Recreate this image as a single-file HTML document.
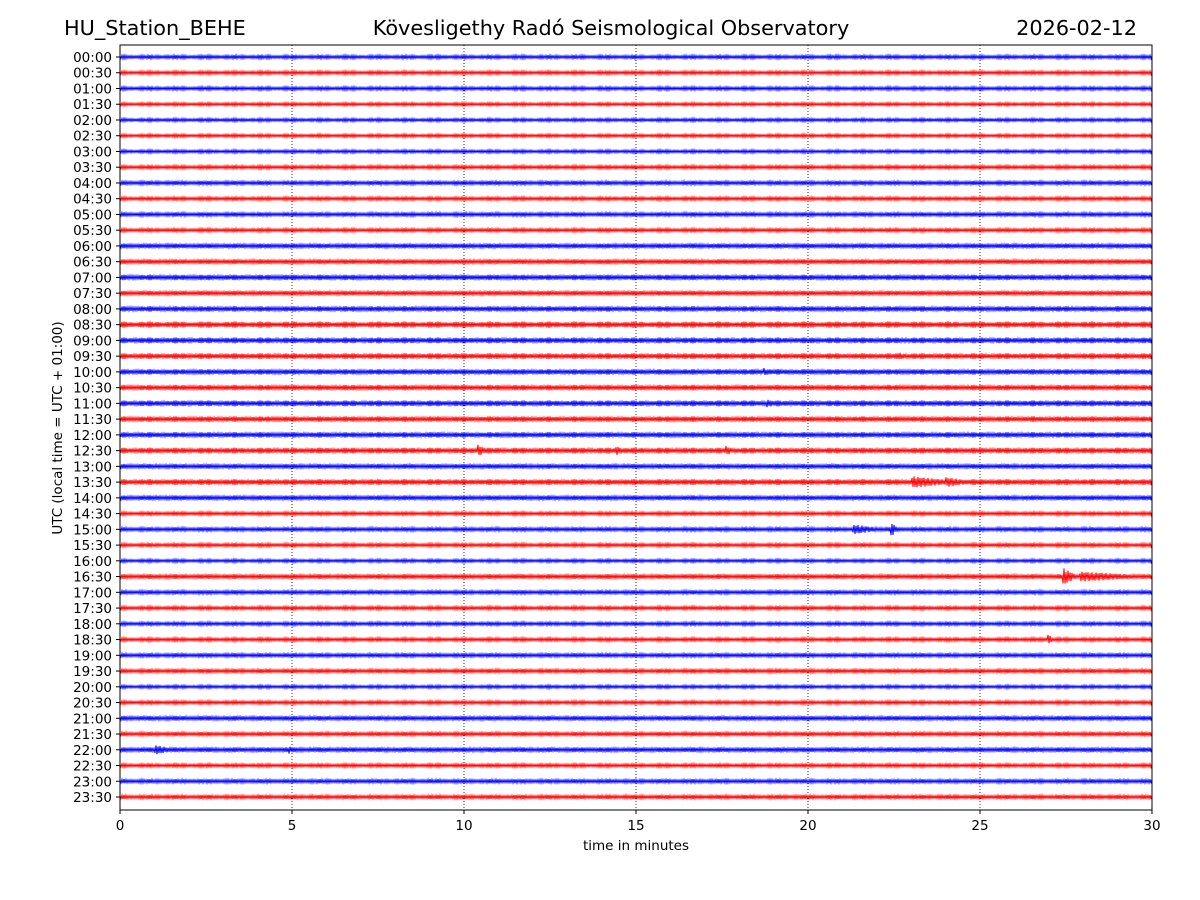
<!DOCTYPE html>
<html><head><meta charset="utf-8">
<style>
body{margin:0;background:#fff;}
svg{display:block;font-family:"DejaVu Sans","Liberation Sans",sans-serif;}
</style></head>
<body>
<svg id="chart" width="1200" height="900" viewBox="0 0 1200 900">
<rect x="0" y="0" width="1200" height="900" fill="#fff"/>
<text x="64" y="35" font-size="20.8">HU_Station_BEHE</text>
<text x="611" y="35" font-size="20.8" text-anchor="middle">Kövesligethy Radó Seismological Observatory</text>
<text x="1137" y="35" font-size="20.8" text-anchor="end">2026-02-12</text>
<g id="grid"></g>
<g id="traces"></g>
<rect x="120" y="45" width="1032" height="765" fill="none" stroke="#000" stroke-width="1"/>
<g id="xaxis"></g>
<g id="yaxis"></g>
<text x="636" y="850" font-size="13.5" text-anchor="middle">time in minutes</text>
<text x="0" y="0" font-size="13.5" text-anchor="middle" transform="translate(62,428) rotate(-90)">UTC (local time = UTC + 01:00)</text>
</svg>
<script>
const rowLabels = [];
for (let h = 0; h < 24; h++) { const hh = String(h).padStart(2,'0'); rowLabels.push(hh+':00'); rowLabels.push(hh+':30'); }
const xTicks = [0,5,10,15,20,25,30];
// base noise amplitude per row (px)
const noiseAmp = [2,2,2,1.8,1.8,1.8,1.8,2,2.2,2,2.2,2,2.5,2.5,2.8,2.5,2.8,3.2,3,3,2.8,2.8,3,2.8,2.8,3,2.5,3,2.5,2,2.2,2,1.8,2.5,2.2,2,2,2,2.2,2.2,1.8,2,2.5,2.2,2.5,2,2.2,2.2];
// events: [row, startMinute, endMinute, peakAmplitude px]
const eventRows = [25,25,25,27,27,30,30,33,33,37,44,44,20,19,22];
const eventStart = [10.4,14.4,17.6,23.0,24.0,21.3,22.4,27.4,27.9,26.95,1.0,4.9,18.7,22.6,18.8];
const eventEnd = [10.7,14.7,17.9,24.3,24.8,22.2,22.6,27.8,30,27.1,1.6,5.1,19.0,23.0,19.2];
const eventAmp = [6,5,5,6,5,5,8,9,5,7,5,4,4,4,4];

const X0=120, X1=1152, Y0=57, YSTEP=(797-57)/47;
const xs = m => X0 + (X1-X0)*m/30;
const ys = r => Y0 + r*YSTEP;
const NS='http://www.w3.org/2000/svg';
const grid=document.getElementById('grid'), tr=document.getElementById('traces');
const xa=document.getElementById('xaxis'), ya=document.getElementById('yaxis');

xTicks.forEach(t=>{
  if(t>0&&t<30){
    const l=document.createElementNS(NS,'line');
    l.setAttribute('x1',xs(t));l.setAttribute('x2',xs(t));l.setAttribute('y1',45);l.setAttribute('y2',810);
    l.setAttribute('stroke','#000');l.setAttribute('stroke-width','0.8');l.setAttribute('stroke-dasharray','1,2');
    
    
    grid.appendChild(l);
  }
  const tk=document.createElementNS(NS,'line');
  tk.setAttribute('x1',xs(t));tk.setAttribute('x2',xs(t));tk.setAttribute('y1',810);tk.setAttribute('y2',814);tk.setAttribute('stroke','#000');
  
  
  xa.appendChild(tk);
  const tx=document.createElementNS(NS,'text');
  tx.setAttribute('x',xs(t));tx.setAttribute('y',830);tx.setAttribute('font-size','13.5');tx.setAttribute('text-anchor','middle');
  tx.textContent=t;
  
  
  xa.appendChild(tx);
});

rowLabels.forEach((lab,r)=>{
  const y=ys(r);
  const tk=document.createElementNS(NS,'line');
  tk.setAttribute('x1',116);tk.setAttribute('x2',120);tk.setAttribute('y1',y);tk.setAttribute('y2',y);tk.setAttribute('stroke','#000');
  
  
  ya.appendChild(tk);
  const tx=document.createElementNS(NS,'text');
  tx.setAttribute('x',112);tx.setAttribute('y',y+5);tx.setAttribute('font-size','13.5');tx.setAttribute('text-anchor','end');
  tx.textContent=lab;
  
  
  ya.appendChild(tx);

  let d='';
  const n=1032;
  for(let i=0;i<=n;i++){
    const m=30*i/n;
    let a=noiseAmp[r]*(0.6+0.4*Math.abs(Math.sin(i*0.37)*Math.cos(i*0.11)));
    for(let k=0;k<eventRows.length;k++){
      if(eventRows[k]===r && m>=eventStart[k] && m<=eventEnd[k]){
        const f=(m-eventStart[k])/(eventEnd[k]-eventStart[k]);
        const env=eventAmp[k]*Math.max(0.3,1-f*0.8);
        a=Math.max(a,env*(0.6+0.4*Math.abs(Math.sin(i*0.9))));
      }
    }
    const y2=y+(i%2?a:-a);
    d+=(i?'L':'M')+xs(m).toFixed(1)+' '+y2.toFixed(1);
  }
  const p=document.createElementNS(NS,'path');
  p.setAttribute('d',d);p.setAttribute('fill','none');
  p.setAttribute('stroke',r%2?'#ff0000':'#0000ff');p.setAttribute('stroke-width','1');
  
  
  tr.appendChild(p);
});
</script>
</body></html>
